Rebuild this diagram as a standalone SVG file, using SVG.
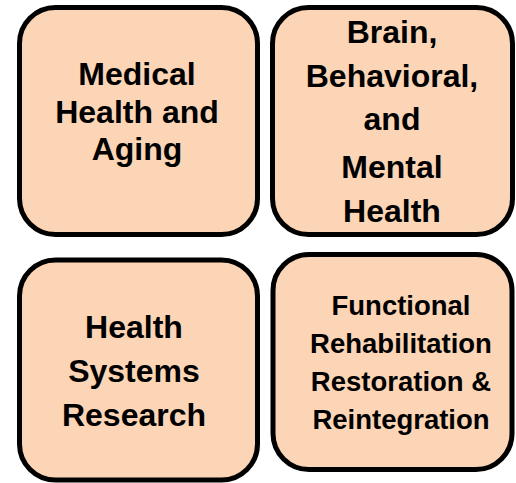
<svg xmlns="http://www.w3.org/2000/svg" width="516" height="483" viewBox="0 0 516 483">
<style>
.box{fill:#FBD5B5;stroke:#000;stroke-width:5}
.t{font-family:"Liberation Sans",Arial,sans-serif;font-weight:bold;font-size:32px;fill:#000;text-anchor:middle}
.s{font-size:27.5px}
</style>
<rect width="516" height="483" fill="#fff"/>
<g id="medical">
<rect class="box" x="19.5" y="7.5" width="238" height="227" rx="36" ry="36"/>
<text class="t" x="137" y="85">Medical</text>
<text class="t" x="137" y="122.5">Health and</text>
<text class="t" x="137" y="160">Aging</text>
</g>
<g id="brain">
<rect class="box" x="272.5" y="7.5" width="240" height="227" rx="36" ry="36"/>
<text class="t" x="392" y="43">Brain,</text>
<text class="t" x="392" y="87">Behavioral,</text>
<text class="t" x="392" y="130">and</text>
<text class="t" x="392" y="178">Mental</text>
<text class="t" x="392" y="222">Health</text>
</g>
<g id="health-systems">
<rect class="box" x="19.5" y="260" width="238" height="220" rx="36" ry="36"/>
<text class="t" x="134" y="338">Health</text>
<text class="t" x="134" y="382">Systems</text>
<text class="t" x="134" y="426">Research</text>
</g>
<g id="functional">
<rect class="box" x="273" y="254.5" width="239" height="215" rx="36" ry="36"/>
<text class="t s" x="401" y="315">Functional</text>
<text class="t s" x="401" y="353">Rehabilitation</text>
<text class="t s" x="401" y="391">Restoration &amp;</text>
<text class="t s" x="401" y="429">Reintegration</text>
</g>
<g id="connectors"></g>
</svg>
